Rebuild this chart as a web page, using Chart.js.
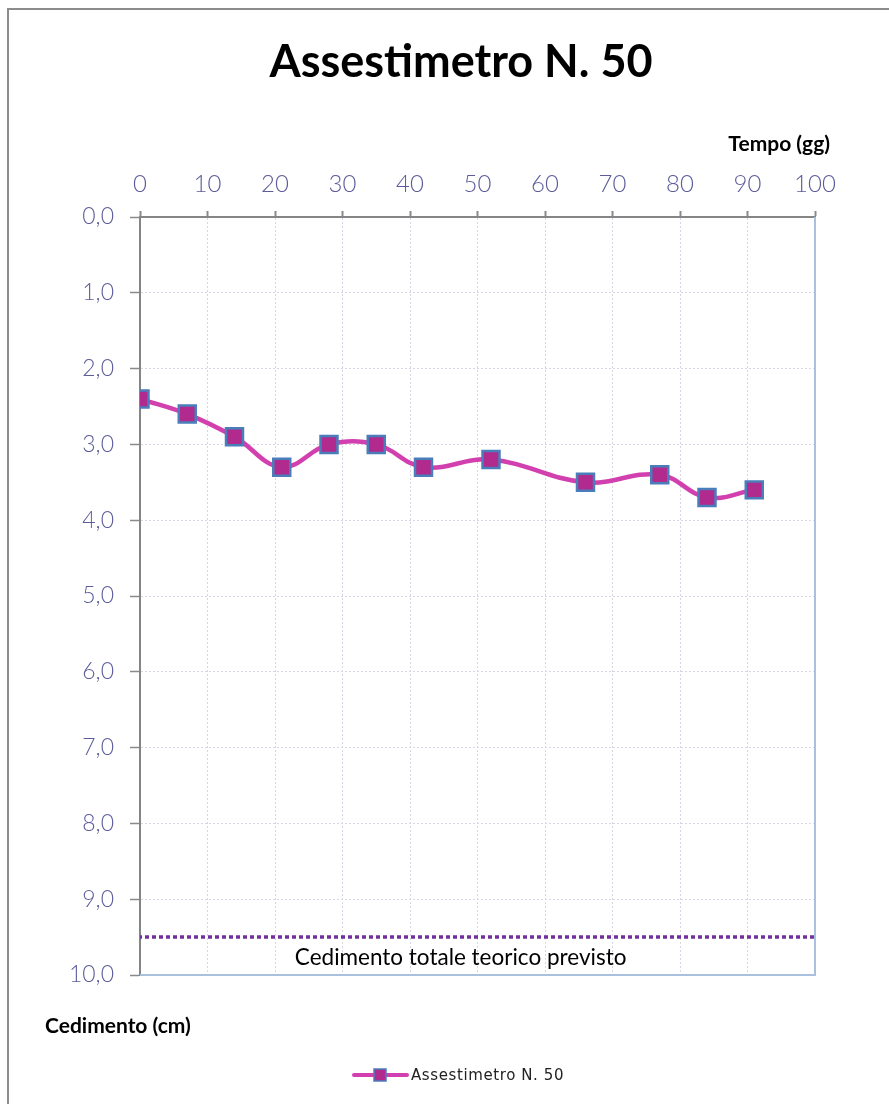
<!DOCTYPE html>
<html>
<head>
<meta charset="utf-8">
<script src="https://cdn.jsdelivr.net/npm/chart.js@4/dist/chart.umd.min.js"></script>
<style>
  html, body { margin: 0; padding: 0; background: #ffffff; }
  #wrap { width: 889px; height: 1104px; position: relative; }
</style>
</head>
<body>
<div id="wrap"><canvas id="c" width="889" height="1104"></canvas></div>
<script>
// Misure dell'assestimetro: tempo (giorni) e cedimento (cm)
const giorni = [0, 7, 14, 21, 28, 35, 42, 52, 66, 77, 84, 91];
const cedimenti = [2.4, 2.6, 2.9, 3.3, 3.0, 3.0, 3.3, 3.2, 3.5, 3.4, 3.7, 3.6];
// Cedimento totale teorico previsto (cm)
const cedimentoPrevisto = 9.5;
const limiteTempo = [0, 100];
const limiteCedimento = [0, 10];

const titolo = 'Assestimetro N. 50';
const titoloX = 'Tempo (gg)';
const titoloY = 'Cedimento (cm)';
const etichettaPrevisto = 'Cedimento totale teorico previsto';

const LINE_COLOR = '#D23FAE';
const MARKER_FILL = '#B12A8E';
const MARKER_BORDER = '#4A7EBB';
const TICK_COLOR = '#5C5C9A';

const puntiMisura = giorni.map((g, i) => ({ x: g, y: cedimenti[i] }));
const puntiPrevisto = limiteTempo.map(g => ({ x: g, y: cedimentoPrevisto }));

// Cornice, bordi dell'area, titoli, etichetta e legenda
const decorazioni = {
  id: 'decorazioni',
  beforeDraw(chart) {
    const ctx = chart.ctx;
    ctx.save();
    ctx.fillStyle = '#ffffff';
    ctx.fillRect(0, 0, chart.width, chart.height);
    ctx.strokeStyle = '#8C8C8C';
    ctx.lineWidth = 2;
    ctx.strokeRect(8, 9, chart.width + 20, chart.height + 20);
    ctx.restore();
  },
  afterDatasetsDraw(chart) {
    const ctx = chart.ctx;
    const a = chart.chartArea;
    ctx.save();
    // bordi destro e inferiore dell'area del grafico
    ctx.strokeStyle = '#A9C0DE';
    ctx.lineWidth = 2;
    ctx.beginPath();
    ctx.moveTo(a.right, a.top);
    ctx.lineTo(a.right, a.bottom);
    ctx.lineTo(a.left, a.bottom);
    ctx.stroke();

    // titolo
    ctx.fillStyle = '#000000';
    ctx.textAlign = 'center';
    ctx.textBaseline = 'middle';
    ctx.font = 'bold 45px Lato, "Open Sans", sans-serif';
    ctx.fillText(titolo, 461, 62);

    // titoli degli assi
    ctx.font = 'bold 21px Lato, "Open Sans", sans-serif';
    ctx.textAlign = 'right';
    ctx.fillText(titoloX, 830, 144);
    ctx.textAlign = 'left';
    ctx.fillText(titoloY, 45, 1026);

    // etichetta del cedimento previsto
    const xs = chart.scales.x, ys = chart.scales.y;
    ctx.font = '22.5px Lato, "Open Sans", sans-serif';
    ctx.textAlign = 'center';
    ctx.fillText(etichettaPrevisto, xs.getPixelForValue(47.5),
                 ys.getPixelForValue(cedimentoPrevisto) + 21);

    // legenda
    const ly = 1075;
    ctx.strokeStyle = LINE_COLOR;
    ctx.lineWidth = 4;
    ctx.lineCap = 'round';
    ctx.beginPath();
    ctx.moveTo(354, ly);
    ctx.lineTo(407, ly);
    ctx.stroke();
    ctx.fillStyle = MARKER_FILL;
    ctx.fillRect(374, ly - 6, 12, 12);
    ctx.strokeStyle = MARKER_BORDER;
    ctx.lineWidth = 1.5;
    ctx.strokeRect(374, ly - 6, 12, 12);
    ctx.fillStyle = '#222222';
    ctx.textAlign = 'left';
    ctx.font = '15px "DejaVu Sans", sans-serif';
    ctx.letterSpacing = '0.6px';
    ctx.fillText(chart.data.datasets[0].label, 411, ly + 1);
    ctx.restore();
  }
};

const fmt = v => Number(v).toFixed(1).replace('.', ',');

new Chart(document.getElementById('c'), {
  type: 'line',
  data: {
    datasets: [
      {
        label: titolo,
        data: puntiMisura,
        borderColor: LINE_COLOR,
        borderWidth: 4.5,
        tension: 0.4,
        pointStyle: 'rect',
        pointRadius: 12,
        pointHoverRadius: 12,
        pointBackgroundColor: MARKER_FILL,
        pointBorderColor: MARKER_BORDER,
        pointBorderWidth: 2.5,
        order: 0
      },
      {
        label: etichettaPrevisto,
        data: puntiPrevisto,
        borderColor: '#7030A0',
        borderWidth: 3.5,
        borderDash: [4, 3],
        borderDashOffset: -5,
        pointRadius: 0,
        tension: 0,
        order: 1
      }
    ]
  },
  options: {
    responsive: false,
    animation: false,
    devicePixelRatio: 1,
    layout: { padding: { left: 0, top: 0, right: 74, bottom: 129 } },
    plugins: {
      legend: { display: false },
      title: { display: false },
      tooltip: { enabled: false }
    },
    scales: {
      x: {
        type: 'linear',
        position: 'top',
        min: limiteTempo[0],
        max: limiteTempo[1],
        afterFit(s) { s.height = 217; },
        ticks: {
          stepSize: 10,
          color: TICK_COLOR,
          font: { family: 'Lato, "Open Sans", sans-serif', size: 24, weight: '300' },
          padding: 12,
          maxRotation: 0
        },
        grid: {
          color: '#D6D6E4',
          lineWidth: 1,
          tickColor: '#8A8A8A',
          tickLength: 6,
          tickBorderDash: [],
          tickWidth: 2
        },
        border: { display: true, color: '#858585', width: 2, dash: [2, 2] }
      },
      y: {
        type: 'linear',
        reverse: true,
        min: limiteCedimento[0],
        max: limiteCedimento[1],
        afterFit(s) { s.width = 140; },
        ticks: {
          stepSize: 1,
          color: TICK_COLOR,
          font: { family: 'Lato, "Open Sans", sans-serif', size: 23, weight: '300' },
          padding: 16,
          callback: v => fmt(v)
        },
        grid: {
          color: '#D6D6E4',
          lineWidth: 1,
          tickColor: '#8A8A8A',
          tickLength: 10,
          tickBorderDash: [],
          tickWidth: 1.5
        },
        border: { display: true, color: '#858585', width: 2, dash: [2, 2] }
      }
    }
  },
  plugins: [decorazioni]
});
</script>
</body>
</html>
